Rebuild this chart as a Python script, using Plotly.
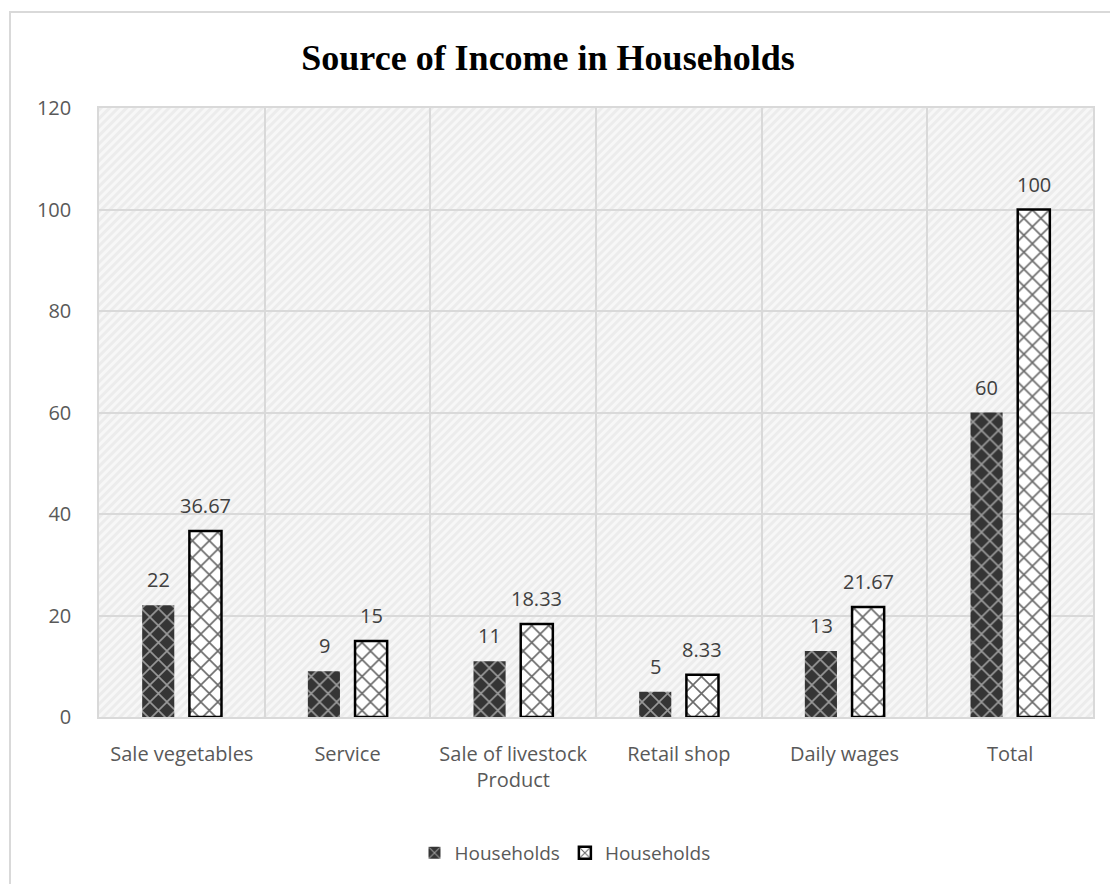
import base64
import plotly.graph_objects as go

# Income sources and household counts / percentages
categories = ["Sale vegetables", "Service", "Sale of livestock<br>Product",
              "Retail shop", "Daily wages", "Total"]
households_count = [22, 9, 11, 5, 13, 60]
households_pct = [36.67, 15, 18.33, 8.33, 21.67, 100]
series_names = ["Households", "Households"]
y_ticks = [0, 20, 40, 60, 80, 100, 120]

FONT = "Open Sans"
TICK_COLOR = "#595959"
LABEL_COLOR = "#404040"
GRID = "#d9d9d9"

# Light diagonal hatching for the plot-area background
hatch_svg = (
    '<svg xmlns="http://www.w3.org/2000/svg" width="994" height="609">'
    '<defs><pattern id="h" width="6" height="6" patternUnits="userSpaceOnUse" '
    'patternTransform="rotate(45)">'
    '<rect width="6" height="6" fill="#f7f7f7"/>'
    '<rect width="3" height="6" fill="#ececec"/></pattern></defs>'
    '<rect width="994" height="609" fill="url(#h)"/></svg>'
)
hatch_uri = "data:image/svg+xml;base64," + base64.b64encode(hatch_svg.encode()).decode()

fig = go.Figure()

fig.add_trace(go.Bar(
    name=series_names[0], x=categories, y=households_count,
    marker=dict(
        color="#3c3c3c",
        line=dict(width=0),
        pattern=dict(shape="x", fgcolor="#9a9a9a", bgcolor="#353535",
                     size=12, solidity=0.25, fillmode="replace"),
    ),
))
fig.add_trace(go.Bar(
    name=series_names[1], x=categories, y=households_pct,
    marker=dict(
        color="white",
        line=dict(width=2.5, color="black"),
        pattern=dict(shape="x", fgcolor="#6a6a6a", bgcolor="white",
                     size=12, solidity=0.25, fillmode="replace"),
    ),
))

# Value labels above each bar
slot_shift = 23.5
for vals, shift in ((households_count, -slot_shift), (households_pct, slot_shift)):
    for cat, v in zip(categories, vals):
        fig.add_annotation(
            x=cat, y=v, text=f"{v:g}", showarrow=False,
            xshift=shift, yshift=10, yanchor="bottom",
            font=dict(family=FONT, size=20, color=LABEL_COLOR),
        )

# Outer chart frame
fig.add_shape(
    type="rect", xref="paper", yref="paper",
    x0=(10 - 99) / 994, x1=(1130 - 99) / 994,
    y0=(717 - 920) / 609, y1=(717 - 12) / 609,
    line=dict(color="#d9d9d9", width=2), fillcolor="rgba(0,0,0,0)",
    layer="below",
)

fig.add_layout_image(
    source=hatch_uri, xref="paper", yref="paper", x=0, y=1,
    sizex=1, sizey=1, xanchor="left", yanchor="top",
    sizing="stretch", layer="below",
)

fig.update_layout(
    width=1110, height=884,
    margin=dict(l=99, r=17, t=108, b=167),
    paper_bgcolor="white", plot_bgcolor="#f4f4f4",
    barmode="group", bargap=0.43, bargroupgap=0.32,
    title=dict(
        text="<b>Source of Income in Households</b>",
        font=dict(family="Liberation Serif", size=36, color="black"),
        xref="container", yref="container",
        x=548 / 1110, xanchor="center", y=1 - 57 / 884, yanchor="middle",
    ),
    font=dict(family=FONT, color=TICK_COLOR),
    legend=dict(
        orientation="h", x=(565 - 99) / 994, xanchor="center",
        y=-(853 - 717) / 609, yanchor="middle",
        font=dict(family=FONT, size=19, color=TICK_COLOR),
        itemwidth=30, traceorder="normal",
    ),
    showlegend=True,
)

fig.update_xaxes(
    tickson="boundaries", showgrid=True, gridcolor=GRID, gridwidth=1.5,
    showline=True, linecolor=GRID, linewidth=1.5, mirror=True,
    ticks="", tickfont=dict(family=FONT, size=20, color=TICK_COLOR),
    ticklabelstandoff=18,
)
fig.update_yaxes(
    range=[0, 120], tickvals=y_ticks, showgrid=True, gridcolor=GRID,
    gridwidth=1.5, showline=True, linecolor=GRID, linewidth=1.5, mirror=True,
    zeroline=False, ticks="", tickfont=dict(family=FONT, size=20, color=TICK_COLOR),
    ticklabelstandoff=22,
)

fig.write_html("out.html")
